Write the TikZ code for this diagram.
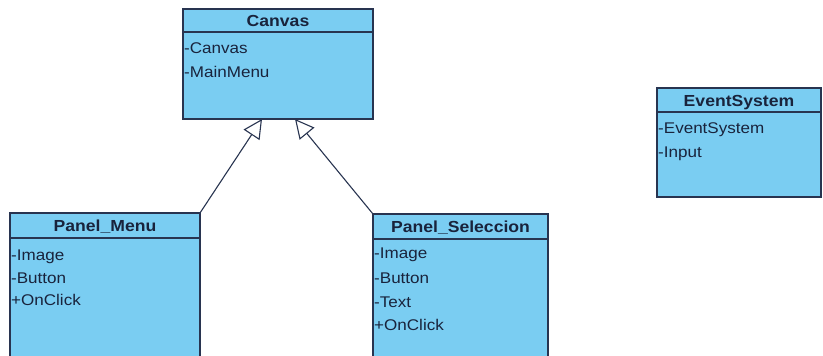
\documentclass[tikz,border=0pt]{standalone}
\usepackage{fontspec}
\setmainfont{Liberation Sans}
\newfontfamily\clsfont[FakeStretch=1.1]{Liberation Sans}
\usetikzlibrary{arrows.meta}
\definecolor{clsfill}{RGB}{122,205,242}
\definecolor{clsline}{RGB}{40,52,80}
\definecolor{clstext}{RGB}{25,35,60}
\tikzset{
  classbox/.style={draw=clsline, fill=clsfill, line width=1.2pt, anchor=north west, inner sep=0pt, outer sep=0pt},
  headline/.style={draw=clsline, line width=1.2pt},
  classtitle/.style={font=\clsfont\fontsize{16}{18}\selectfont\bfseries, text=clstext, inner sep=0pt, anchor=mid, yshift=-3pt},
  attr/.style={font=\clsfont\fontsize{15.5}{18}\selectfont, text=clstext, inner sep=0pt, anchor=mid west, yshift=-3pt},
  inherit/.style={draw=clsline, line width=1.1pt, -{Triangle[open, length=19pt, width=19pt, fill=white]}},
}
\begin{document}
\begin{tikzpicture}[x=1pt, y=-1pt]
\useasboundingbox (0,0) rectangle (823,356);

% Canvas
\node[classbox, minimum width=190pt, minimum height=110pt] (canvas) at (183,9) {};
\draw[headline] ([yshift=-23pt]canvas.north west) -- ([yshift=-23pt]canvas.north east);
\node[classtitle] (canvasT) at (278,21) {Canvas};
\node[attr] (canvasA1) at (184,48) {-Canvas};
\node[attr] (canvasA2) at (184,72) {-MainMenu};

% Panel_Menu
\node[classbox, minimum width=190pt, minimum height=150pt] (pmenu) at (10,213) {};
\draw[headline] ([yshift=-25pt]pmenu.north west) -- ([yshift=-25pt]pmenu.north east);
\node[classtitle] (pmenuT) at (105,226) {Panel\_Menu};
\node[attr] (pmenuA1) at (11,255) {-Image};
\node[attr] (pmenuA2) at (11,278) {-Button};
\node[attr] (pmenuA3) at (11,300) {+OnClick};

% Panel_Seleccion
\node[classbox, minimum width=175pt, minimum height=150pt] (psel) at (373,214) {};
\draw[headline] ([yshift=-25pt]psel.north west) -- ([yshift=-25pt]psel.north east);
\node[classtitle] (pselT) at (460.5,227) {Panel\_Seleccion};
\node[attr] (pselA1) at (374,253) {-Image};
\node[attr] (pselA2) at (374,278) {-Button};
\node[attr] (pselA3) at (374,302) {-Text};
\node[attr] (pselA4) at (374,325) {+OnClick};

% EventSystem
\node[classbox, minimum width=164pt, minimum height=109pt] (evsys) at (657,88) {};
\draw[headline] ([yshift=-24pt]evsys.north west) -- ([yshift=-24pt]evsys.north east);
\node[classtitle] (evsysT) at (739,101) {EventSystem};
\node[attr] (evsysA1) at (658,128) {-EventSystem};
\node[attr] (evsysA2) at (658,152) {-Input};

% Generalizations
\coordinate (tipL) at ([xshift=79pt]canvas.south west);
\coordinate (tipR) at ([xshift=112pt]canvas.south west);
\draw[inherit] (pmenu.north east) -- (tipL);
\draw[inherit] (psel.north west) -- (tipR);
\end{tikzpicture}
\end{document}
